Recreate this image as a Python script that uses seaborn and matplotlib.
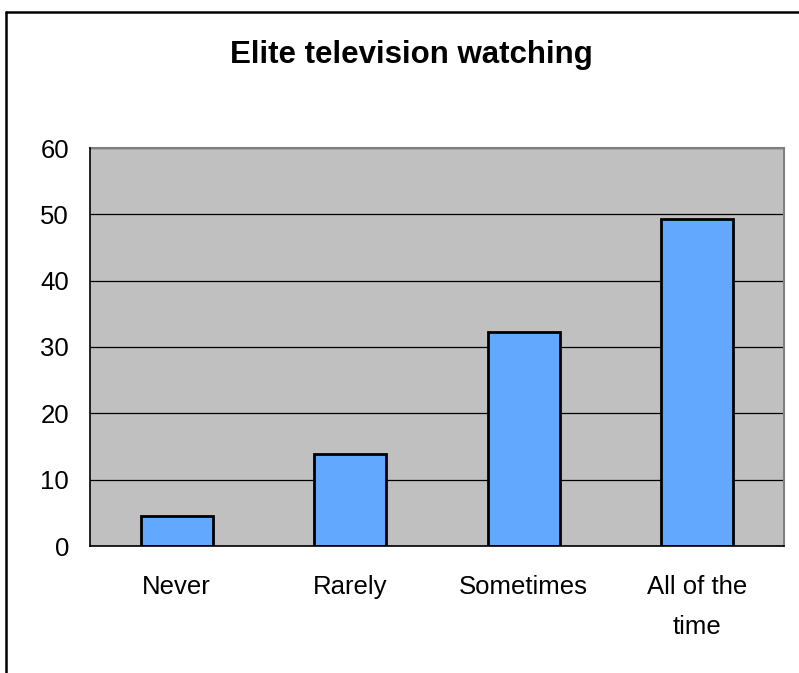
import matplotlib
matplotlib.use("Agg")
import matplotlib.pyplot as plt
from matplotlib.lines import Line2D
import seaborn as sns
import pandas as pd

categories = ["Never", "Rarely", "Sometimes", "All of the\ntime"]
values = [4.5, 13.8, 32.3, 49.3]
y_ticks = [0, 10, 20, 30, 40, 50, 60]
title = "Elite television watching"

sns.set_style("white")
plt.rcParams["font.family"] = ["Liberation Sans", "DejaVu Sans"]

W, H = 799, 673
fig = plt.figure(figsize=(W / 100, H / 100), dpi=100)
fig.patch.set_facecolor("white")

# plot area in pixel coordinates
left, right, top, bottom = 90, 784, 148, 546
ax = fig.add_axes([left / W, 1 - bottom / H, (right - left) / W, (bottom - top) / H])
ax.set_facecolor("#C0C0C0")

df = pd.DataFrame({"category": categories, "value": values})
sns.barplot(data=df, x="category", y="value", color="#63A8FF", saturation=1,
            edgecolor="black", linewidth=2, width=0.415, ax=ax, zorder=3)

ax.set_xlim(-0.5, len(categories) - 0.5)
ax.set_ylim(y_ticks[0], y_ticks[-1])
ax.set_yticks(y_ticks)
ax.set_yticklabels([str(t) for t in y_ticks], fontsize=18.5, color="black")
ax.set_xticks(range(len(categories)))
ax.set_xticklabels(categories, fontsize=18.5, linespacing=1.85, color="black")
ax.tick_params(axis="x", length=0, pad=21)
ax.set_xticks([i + 0.5 for i in range(-1, len(categories))], minor=True)
ax.tick_params(axis="x", which="minor", length=6, width=1, color="black", direction="out")
ax.tick_params(axis="y", length=6, width=1, color="black", direction="out", pad=9)
ax.set_xlabel("")
ax.set_ylabel("")

ax.yaxis.grid(True, color="black", linewidth=0.9)
ax.set_axisbelow(True)
for b in ax.patches:
    b.set_zorder(3)

for side in ["left", "bottom"]:
    ax.spines[side].set_color("black")
    ax.spines[side].set_linewidth(1.2)
    ax.spines[side].set_zorder(4)
for side in ["top", "right"]:
    ax.spines[side].set_color("#808080")
    ax.spines[side].set_linewidth(1.5)

# chart-area frame: left and top edges
fig.add_artist(Line2D([6 / W, 6 / W], [0, 1 - 11.5 / H], transform=fig.transFigure,
                      color="black", linewidth=1.8))
fig.add_artist(Line2D([6 / W, 1], [1 - 11.5 / H, 1 - 11.5 / H], transform=fig.transFigure,
                      color="black", linewidth=1.8))

fig.text(411 / W, 1 - 63 / H, title, ha="center", va="baseline",
         fontsize=22.5, fontweight="bold", color="black")

fig.savefig("out.png", dpi=100)
